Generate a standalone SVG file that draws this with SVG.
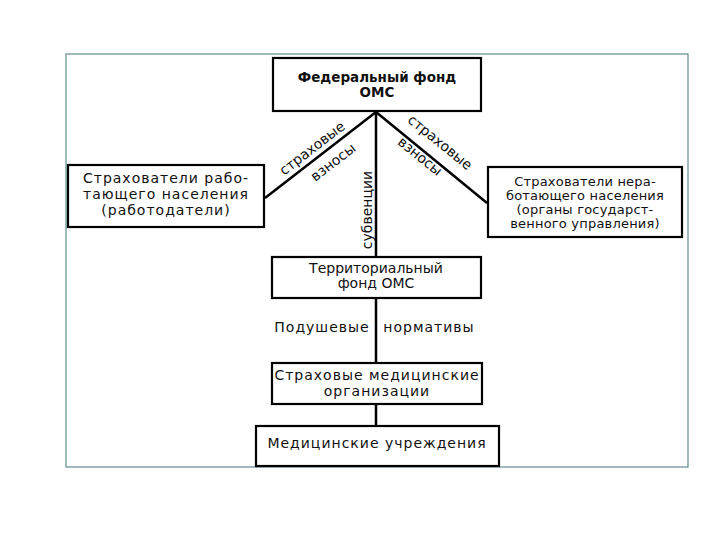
<svg xmlns="http://www.w3.org/2000/svg" width="720" height="540" viewBox="0 0 720 540">
<style>
.box{fill:#fff;stroke:#000;stroke-width:2.2}
.t{font-family:"DejaVu Sans","Liberation Sans",sans-serif;font-size:14px;fill:#111;text-anchor:middle}
.b{font-weight:bold;font-size:13.5px}
.w{font-size:14px;letter-spacing:1px}
.n{font-size:13px;letter-spacing:0.2px}
.ln{stroke:#000;stroke-width:2.5;fill:none}
</style>
<rect width="720" height="540" fill="#fff"/>
<rect x="66" y="54" width="622" height="413" fill="none" stroke="#5f8a8f" stroke-width="1.2"/>
<g id="connectors">
<line class="ln" x1="376" y1="111" x2="376" y2="427"/>
<line class="ln" x1="376" y1="112" x2="265" y2="198"/>
<line class="ln" x1="376" y1="112" x2="487" y2="203"/>
<text class="t" transform="translate(315,152) rotate(-37.5)">страховые</text>
<text class="t" transform="translate(336,166) rotate(-37.5)">взносы</text>
<text class="t" transform="translate(437,146) rotate(39)">страховые</text>
<text class="t" transform="translate(417,160) rotate(39)">взносы</text>
<text class="t" transform="translate(372,210) rotate(-90)">субвенции</text>
<text class="t w" x="322" y="332">Подушевые</text>
<text class="t w" x="429" y="332">нормативы</text>
</g>
<g id="federal">
<rect class="box" x="273" y="58" width="208" height="53"/>
<text class="t b" x="377" y="82">Федеральный фонд</text>
<text class="t b" x="377" y="97">ОМС</text>
</g>
<g id="employers">
<rect class="box" x="68" y="165" width="196" height="62"/>
<text class="t w" x="166" y="183">Страхователи рабо-</text>
<text class="t w" x="166" y="199">тающего населения</text>
<text class="t w" x="166" y="215">(работодатели)</text>
</g>
<g id="nonworking">
<rect class="box" x="488" y="167" width="194" height="70"/>
<text class="t n" x="585" y="186">Страхователи нера-</text>
<text class="t n" x="585" y="200">ботающего населения</text>
<text class="t n" x="585" y="214">(органы государст-</text>
<text class="t n" x="585" y="228">венного управления)</text>
</g>
<g id="territorial">
<rect class="box" x="272" y="257" width="209" height="41"/>
<text class="t" x="376" y="273">Территориальный</text>
<text class="t" x="376" y="288">фонд ОМС</text>
</g>
<g id="smo">
<rect class="box" x="272" y="363" width="210" height="41"/>
<text class="t w" x="377" y="380">Страховые медицинские</text>
<text class="t w" x="377" y="396">организации</text>
</g>
<g id="medical">
<rect class="box" x="256" y="426" width="243" height="40"/>
<text class="t w" x="377" y="448">Медицинские учреждения</text>
</g>
</svg>
